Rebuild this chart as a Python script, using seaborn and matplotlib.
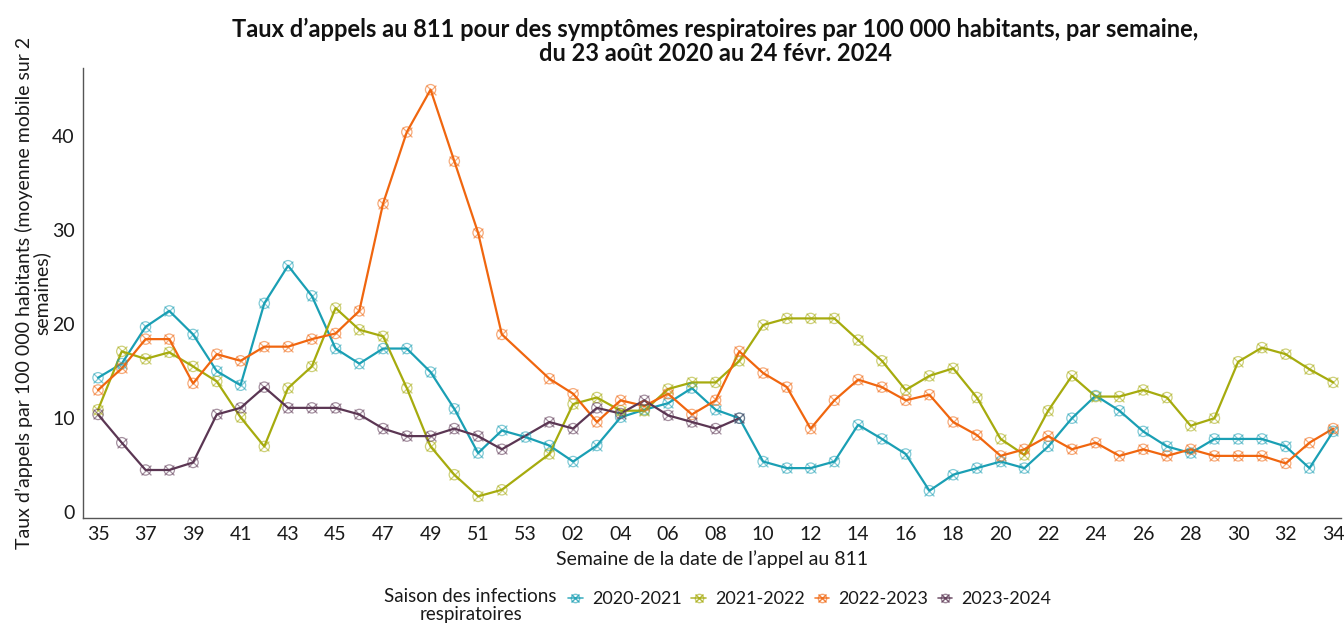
import numpy as np
import pandas as pd
import matplotlib
matplotlib.use("Agg")
import matplotlib.pyplot as plt
import seaborn as sns
from matplotlib.lines import Line2D
from matplotlib.legend_handler import HandlerTuple

weeks = [str(w) for w in range(35, 54)] + [f"{w:02d}" for w in range(1, 35)]
N = None
s2020 = [14.3, 15.8, 19.7, 21.4, 18.9, 15.0, 13.5, 22.2, 26.2, 23.0, 17.4, 15.8, 17.4, 17.4, 14.9, 11.0, 6.3, 8.7, 8.0,
         7.1, 5.4, 7.1, 10.1, 10.9, 11.6, 13.2, 10.9, 10.0, 5.4, 4.7, 4.7, 5.4, 9.3, 7.8, 6.2, 2.3, 4.0, 4.7, 5.4, 4.7,
         7.0, 10.0, 12.4, 10.8, 8.6, 7.0, 6.3, 7.8, 7.8, 7.8, 7.0, 4.7, 8.6]
s2021 = [10.9, 17.1, 16.3, 17.0, 15.5, 13.9, 10.1, 7.0, 13.2, 15.5, 21.7, 19.4, 18.7, 13.2, 7.0, 4.0, 1.7, 2.4, N,
         6.2, 11.5, 12.2, 10.8, 10.8, 13.1, 13.8, 13.8, 16.1, 19.9, 20.6, 20.6, 20.6, 18.3, 16.1, 13.0, 14.5, 15.3, 12.2, 7.8, 6.1,
         10.8, 14.5, 12.3, 12.3, 13.0, 12.2, 9.2, 10.0, 16.0, 17.5, 16.8, 15.2, 13.8]
s2022 = [13.0, 15.3, 18.4, 18.4, 13.7, 16.8, 16.1, 17.6, 17.6, 18.4, 19.0, 21.4, 32.8, 40.4, 44.9, 37.3, 29.7, 18.9, N,
         14.2, 12.6, 9.6, 11.9, 11.3, 12.6, 10.4, 11.9, 17.1, 14.8, 13.3, 8.9, 11.9, 14.1, 13.3, 11.9, 12.5, 9.6, 8.2, 6.0, 6.7,
         8.1, 6.7, 7.4, 6.0, 6.7, 6.0, 6.7, 6.0, 6.0, 6.0, 5.2, 7.4, 8.9]
s2023 = [10.4, 7.4, 4.5, 4.5, 5.3, 10.4, 11.1, 13.3, 11.1, 11.1, 11.1, 10.4, 8.9, 8.1, 8.1, 8.9, 8.1, 6.7, N,
         9.6, 8.9, 11.1, 10.5, 11.9, 10.3, 9.6, 8.9, 10.0] + [N] * 25
seasons = ["2020-2021", "2021-2022", "2022-2023", "2023-2024"]
colors = ["#1a9fb4", "#a6ab0e", "#f0660f", "#5b3653"]

rows = []
for name, vals in zip(seasons, [s2020, s2021, s2022, s2023]):
    for i, (w, v) in enumerate(zip(weeks, vals)):
        if v is not None:
            rows.append({"pos": i, "week": w, "taux": v, "saison": name})
df = pd.DataFrame(rows)

sns.set_theme(style="white")
plt.rcParams["font.family"] = ["Lato", "DejaVu Sans"]

fig = plt.figure(figsize=(13.44, 6.26), dpi=100)
ax = fig.add_axes([0.0618, 0.1725, 0.936, 0.7189])
pal = dict(zip(seasons, colors))

sns.lineplot(data=df, x="pos", y="taux", hue="saison", palette=pal, ax=ax,
             linewidth=1.6, legend=False, sort=True, estimator=None)
for name in seasons:
    sub = df[df.saison == name]
    ax.scatter(sub.pos, sub.taux, marker="o", s=55, facecolors="none", edgecolors=pal[name],
               linewidths=0.9, alpha=0.55, zorder=3)
    ax.scatter(sub.pos, sub.taux, marker="x", s=50, color=pal[name], linewidths=0.9, alpha=0.55, zorder=3)

ax.set_xlim(-0.63, 52.33)
ax.set_ylim(-0.6, 47.2)
ax.set_xticks(range(0, len(weeks), 2))
ax.set_xticklabels(weeks[::2])
ax.set_yticks([0, 10, 20, 30, 40])
ax.tick_params(axis="both", labelsize=14, labelcolor="#1a1a1a", length=4, width=0.8, direction="out",
               color="#555555", pad=2)
for side in ["top", "right"]:
    ax.spines[side].set_visible(False)
for side in ["left", "bottom"]:
    ax.spines[side].set_color("#555555")
    ax.spines[side].set_linewidth(1.0)

ax.set_xlabel("Semaine de la date de l’appel au 811", fontsize=14, color="#1a1a1a", labelpad=5)
ax.set_ylabel("Taux d’appels par 100 000 habitants (moyenne mobile sur 2\nsemaines)",
              fontsize=14, color="#1a1a1a", labelpad=1, linespacing=1.0)
fig.text(0.532, 0.972, "Taux d’appels au 811 pour des symptômes respiratoires par 100 000 habitants, par semaine,\ndu 23 août 2020 au 24 févr. 2024",
         ha="center", va="top", fontsize=17, fontweight="bold", color="#111111", linespacing=1.05)

handles = []
for c in colors:
    h1 = Line2D([], [], color=c, lw=1.2, marker="x", ms=6, alpha=0.8)
    h2 = Line2D([], [], color=c, lw=0, marker="o", ms=6, mfc="none", alpha=0.6)
    handles.append((h1, h2))
fig.text(557 / 1344, 1 - 588 / 626, "Saison des infections\nrespiratoires", ha="right", va="top",
         multialignment="center", fontsize=13.5, color="#1a1a1a", linespacing=1.05)
fig.legend(handles, seasons, handler_map={tuple: HandlerTuple(ndivide=1, pad=0)},
           loc="center left", bbox_to_anchor=(552 / 1344, 1 - 599 / 626), ncol=4, frameon=False,
           fontsize=13, handlelength=0.8, handletextpad=0.5, columnspacing=0.55,
           labelcolor="#1a1a1a")

fig.savefig("out.png", dpi=100)
